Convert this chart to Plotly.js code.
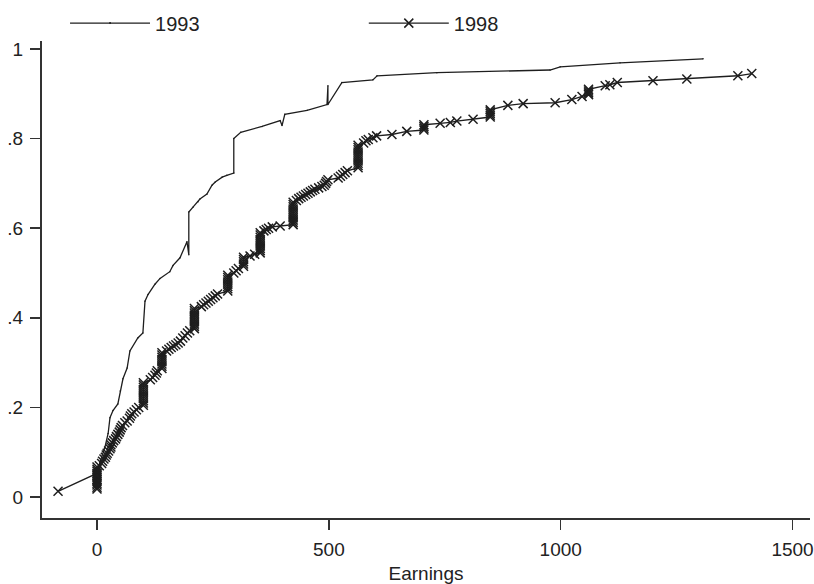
<!DOCTYPE html>
<html>
<head>
<meta charset="utf-8">
<script src="https://cdn.plot.ly/plotly-3.0.1.min.js"></script>
<style>html,body{margin:0;padding:0;background:#fff;}#chart{width:814px;height:584px;}</style>
</head>
<body>
<div id="chart"></div>
<script>
// ---- Data (cumulative share vs earnings) ----
const series1993Name = '1993';
const series1998Name = '1998';

const earnings1993 = [0, 6.5, 17, 24, 28, 34.5, 45, 50, 56, 65, 71, 88, 99, 103.5, 110, 125, 136, 157, 164, 179,
  194, 198, 198, 207, 218, 222, 237, 248, 255, 270, 280, 295, 295, 310, 356, 395, 399, 405, 453, 496,
  498, 498, 528, 595, 604, 733, 977, 999, 1128, 1307];
const cdf1993 = [.042, .078, .111, .142, .177, .193, .208, .237, .264, .288, .326, .355, .366, .437, .452, .475, .488, .503, .517, .534,
  .570, .541, .636, .647, .659, .665, .676, .696, .703, .714, .718, .723, .800, .814, .827, .840, .829, .854, .863, .876,
  .918, .876, .925, .931, .940, .947, .953, .960, .969, .978];

const earnings1998 = [
  -84,
  0, 0, 0, 0, 0, 0, 0, 0, 0, 0, 0, 0,
  5, 10, 12, 15, 18, 20, 22, 25, 28, 30, 30, 33, 36, 40, 42, 45, 48, 50, 52, 55, 60, 65, 70, 72, 75, 80, 85, 90,
  100, 100, 100, 100, 100, 100, 100, 100, 100, 100, 100,
  115, 120, 125, 128, 130,
  140, 140, 140, 140, 140, 140, 140, 140,
  150, 155, 160, 165, 170, 175, 180,
  185, 190, 195, 200,
  210, 210, 210, 210, 210, 210, 210, 210, 210, 210,
  225, 230, 235, 240, 245, 250, 255, 260,
  282, 282, 282, 282, 282, 282, 282, 282,
  295, 300, 305,
  316, 316, 316, 316, 316,
  330, 340,
  352, 352, 352, 352, 352, 352, 352, 352, 352, 352,
  360, 365, 370, 378, 395,
  423, 423, 423, 423, 423, 423, 423, 423, 423, 423, 423,
  430, 435, 440, 445, 450, 455, 460, 465, 470, 478, 485,
  490, 493, 495, 498,
  520, 525, 530, 535, 540,
  563, 563, 563, 563, 563, 563, 563, 563, 563, 563, 563,
  575, 580, 585, 595, 603, 636, 668,
  705, 705, 705, 705,
  740, 762, 776, 811,
  848, 848, 848, 848, 848,
  886, 919, 988, 1024, 1046,
  1060, 1060, 1060, 1060,
  1096, 1106, 1122, 1199, 1272, 1382, 1412
];
const cdf1998 = [
  .013,
  .053, .018, .022, .027, .031, .036, .040, .045, .049, .058, .062, .067,
  .070, .075, .080, .085, .089, .094, .098, .103, .108, .112, .117, .121, .126, .130, .135, .140, .145, .150, .155, .160, .166, .170, .176, .181, .186, .190, .195, .200,
  .205, .210, .215, .220, .225, .230, .235, .240, .245, .250, .255,
  .262, .267, .272, .277, .282,
  .287, .292, .297, .302, .307, .312, .317, .322,
  .326, .330, .334, .337, .340, .344, .348,
  .355, .360, .366, .371,
  .376, .381, .386, .391, .396, .401, .406, .411, .416, .421,
  .425, .429, .433, .437, .441, .445, .449, .453,
  .460, .465, .470, .475, .480, .485, .490, .495,
  .500, .505, .510,
  .515, .520, .525, .530, .535,
  .538, .542,
  .545, .550, .555, .560, .565, .570, .575, .580, .585, .590,
  .594, .597, .600, .603, .605,
  .608, .613, .618, .623, .628, .633, .638, .643, .648, .653, .658,
  .662, .666, .669, .672, .675, .678, .681, .684, .687, .690, .693,
  .696, .700, .704, .708,
  .712, .716, .720, .724, .728,
  .735, .740, .745, .750, .755, .760, .765, .770, .775, .780, .785,
  .790, .795, .798, .802, .806, .809, .816,
  .819, .823, .827, .831,
  .834, .836, .839, .843,
  .848, .852, .856, .860, .864,
  .874, .878, .880, .887, .894,
  .898, .902, .906, .910,
  .918, .920, .925, .929, .933, .940, .945
];

const xTickVals = [0, 500, 1000, 1500];
const xTickText = ['0', '500', '1000', '1500'];
const yTickVals = [0, 0.2, 0.4, 0.6, 0.8, 1];
const yTickText = ['0', '.2', '.4', '.6', '.8', '1'];
const xTitle = 'Earnings';

// ---- Chart ----
const ink = '#1e1e1e';
const traces = [
  {
    x: earnings1993, y: cdf1993, name: series1993Name, type: 'scatter', mode: 'lines+markers',
    line: {color: ink, width: 1.3},
    marker: {symbol: 'circle', size: 1.5, color: ink},
    legend: 'legend'
  },
  {
    x: earnings1998, y: cdf1998, name: series1998Name, type: 'scatter', mode: 'lines+markers',
    line: {color: ink, width: 1.4},
    marker: {symbol: 'x-thin-open', size: 9, color: ink, line: {color: ink, width: 1.5}},
    legend: 'legend2'
  }
];

const fontFam = '"Liberation Sans", Arial, Helvetica, sans-serif';
const layout = {
  width: 814, height: 584,
  margin: {l: 42, r: 4, t: 38, b: 66, pad: 0},
  paper_bgcolor: '#ffffff', plot_bgcolor: '#ffffff',
  font: {family: fontFam, size: 19, color: '#222'},
  showlegend: true,
  xaxis: {
    range: [-118.6, 1537.6], tickvals: xTickVals, ticktext: xTickText,
    showgrid: false, zeroline: false, showline: true, linecolor: '#333', linewidth: 2,
    ticks: 'outside', ticklen: 10, tickwidth: 1.5, tickcolor: '#333',
    ticklabelstandoff: 3,
    title: {text: xTitle, standoff: 9, font: {family: fontFam, size: 19, color: '#222'}},
    automargin: false
  },
  yaxis: {
    range: [-0.0466, 1.0177], tickvals: yTickVals, ticktext: yTickText,
    showgrid: false, zeroline: false, showline: true, linecolor: '#333', linewidth: 2,
    ticks: 'outside', ticklen: 10, tickwidth: 1.5, tickcolor: '#333',
    ticklabelstandoff: 3,
    automargin: false
  },
  legend: {
    orientation: 'h', x: 0.03, y: 1.0375, xanchor: 'left', yanchor: 'middle',
    itemwidth: 80,
    bgcolor: 'rgba(0,0,0,0)', font: {family: fontFam, size: 20, color: '#222'}
  },
  legend2: {
    orientation: 'h', x: 0.419, y: 1.0375, xanchor: 'left', yanchor: 'middle',
    itemwidth: 80,
    bgcolor: 'rgba(0,0,0,0)', font: {family: fontFam, size: 20, color: '#222'}
  }
};

Plotly.newPlot('chart', traces, layout, {staticPlot: true, displayModeBar: false});
</script>
</body>
</html>
